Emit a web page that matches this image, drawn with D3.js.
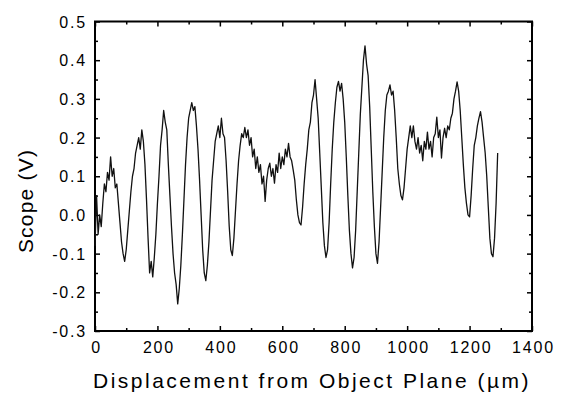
<!DOCTYPE html>
<html>
<head>
<meta charset="utf-8">
<script src="https://cdn.jsdelivr.net/npm/d3@7"></script>
<style>
  body { margin: 0; background: #fff; }
  text { font-family: "Liberation Sans", Arial, sans-serif; fill: #000; }
</style>
</head>
<body>
<div id="chart"></div>
<script>
// sampling grid of the scope trace (um)
const xStart = 0;
const xStep = 5;

// scope voltage (V), every 5 um
const scopeValues = [
  -0.08, 0.05, -0.05, 0.0, -0.03, 0.03, 0.08, 0.06, 0.11, 0.09,
  0.15, 0.1, 0.12, 0.07, 0.08, 0.03, -0.02, -0.07, -0.1, -0.12,
  -0.09, -0.04, 0.01, 0.06, 0.1, 0.12, 0.16, 0.18, 0.2, 0.17,
  0.22, 0.19, 0.13, 0.04, -0.06, -0.15, -0.12, -0.16, -0.11, -0.05,
  0.03, 0.1, 0.18, 0.22, 0.27, 0.24, 0.22, 0.13, 0.05, -0.03,
  -0.1, -0.15, -0.18, -0.23, -0.19, -0.13, -0.05, 0.04, 0.13, 0.2,
  0.25, 0.27, 0.29, 0.27, 0.28, 0.23, 0.17, 0.09, 0.0, -0.09,
  -0.15, -0.17, -0.13, -0.07, 0.01, 0.09, 0.14, 0.19, 0.21, 0.23,
  0.2, 0.25, 0.21, 0.2, 0.14, 0.06, -0.03, -0.09, -0.105, -0.06,
  0.01, 0.08, 0.14, 0.18, 0.21, 0.2, 0.226, 0.2, 0.22, 0.18,
  0.2, 0.15, 0.17, 0.12, 0.15, 0.11, 0.13, 0.08, 0.1, 0.035,
  0.09, 0.12, 0.134, 0.1, 0.12, 0.082, 0.13, 0.11, 0.16, 0.12,
  0.15, 0.13, 0.17, 0.15, 0.185, 0.15, 0.14, 0.116, 0.09, 0.04,
  0.0, -0.02, -0.026, 0.02, 0.08, 0.13, 0.17, 0.22, 0.24, 0.29,
  0.31, 0.35, 0.3, 0.25, 0.16, 0.07, -0.02, -0.08, -0.11, -0.09,
  -0.02, 0.08, 0.17, 0.24, 0.29, 0.33, 0.345, 0.32, 0.34, 0.3,
  0.24, 0.15, 0.05, -0.04, -0.1, -0.137, -0.11, -0.04, 0.06, 0.16,
  0.26, 0.33, 0.4, 0.437, 0.39, 0.36, 0.28, 0.17, 0.06, -0.03,
  -0.1, -0.125, -0.07, 0.02, 0.11, 0.2, 0.27, 0.31, 0.32, 0.336,
  0.31, 0.32, 0.27, 0.2, 0.12, 0.08, 0.05, 0.039, 0.07, 0.12,
  0.17, 0.2, 0.23, 0.2, 0.23, 0.19, 0.17, 0.2, 0.16, 0.18,
  0.14, 0.19, 0.17, 0.214, 0.17, 0.19, 0.15, 0.2, 0.21, 0.253,
  0.2, 0.22, 0.147, 0.2, 0.224, 0.2, 0.23, 0.22, 0.25, 0.263,
  0.3, 0.32, 0.344, 0.32, 0.27, 0.2, 0.13, 0.07, 0.03, 0.0,
  -0.005, 0.05, 0.12, 0.18, 0.2, 0.23, 0.25, 0.267, 0.24, 0.2,
  0.16, 0.1, 0.02, -0.06, -0.1, -0.108, -0.06, 0.03, 0.16
];

const xMajorTicks = [0, 200, 400, 600, 800, 1000, 1200, 1400];
const xMinorTicks = [100, 300, 500, 700, 900, 1100, 1300];
const yMajorTicks = [-0.3, -0.2, -0.1, 0.0, 0.1, 0.2, 0.3, 0.4, 0.5];
const yMinorTicks = [-0.25, -0.15, -0.05, 0.05, 0.15, 0.25, 0.35, 0.45];

const xTitle = 'Displacement from Object Plane (\u00b5m)';
const yTitle = 'Scope (V)';

const width = 561, height = 395;
const margin = {top: 21.5, right: 29, bottom: 64, left: 95};
const w = width - margin.left - margin.right;
const h = height - margin.top - margin.bottom;

const data = scopeValues.map((v, i) => ({x: xStart + i * xStep, y: v}));

const svg = d3.select('#chart').append('svg')
  .attr('width', width)
  .attr('height', height);

const g = svg.append('g')
  .attr('transform', 'translate(' + margin.left + ',' + margin.top + ')');

const x = d3.scaleLinear().domain([0, 1400]).range([0, w]);
const y = d3.scaleLinear().domain([-0.3, 0.5]).range([h, 0]);

// plain hyphen for negatives, like the original
const yFormat = d => d.toFixed(1);

const axes = g.append('g');

// inward ticks on all four sides, major 5px, minor 3px
const gx = axes.append('g').attr('transform', 'translate(0,' + h + ')')
  .call(d3.axisBottom(x).tickValues(xMajorTicks).tickSize(-5).tickSizeOuter(0).tickFormat(d3.format('d')));
axes.append('g').attr('transform', 'translate(0,' + h + ')')
  .call(d3.axisBottom(x).tickValues(xMinorTicks).tickSize(-3).tickSizeOuter(0).tickFormat(''));
axes.append('g')
  .call(d3.axisTop(x).tickValues(xMajorTicks).tickSize(-5).tickSizeOuter(0).tickFormat(''));
axes.append('g')
  .call(d3.axisTop(x).tickValues(xMinorTicks).tickSize(-3).tickSizeOuter(0).tickFormat(''));

const gy = axes.append('g')
  .call(d3.axisLeft(y).tickValues(yMajorTicks).tickSize(-5).tickSizeOuter(0).tickFormat(yFormat));
axes.append('g')
  .call(d3.axisLeft(y).tickValues(yMinorTicks).tickSize(-3).tickSizeOuter(0).tickFormat(''));
axes.append('g').attr('transform', 'translate(' + w + ',0)')
  .call(d3.axisRight(y).tickValues(yMajorTicks).tickSize(-5).tickSizeOuter(0).tickFormat(''));
axes.append('g').attr('transform', 'translate(' + w + ',0)')
  .call(d3.axisRight(y).tickValues(yMinorTicks).tickSize(-3).tickSizeOuter(0).tickFormat(''));

axes.selectAll('.domain').remove();
axes.selectAll('.tick line').attr('stroke', '#000').attr('stroke-width', 1.5);

gx.selectAll('.tick text')
  .attr('x', 1)
  .attr('y', 11)
  .attr('dy', '0.71em')
  .style('font-size', '16px')
  .style('letter-spacing', '1.8px')
  .style('font-family', '"Liberation Sans", Arial, sans-serif')
  .attr('fill', '#000');

gy.selectAll('.tick text')
  .attr('x', -8)
  .attr('dy', '0.35em')
  .style('font-size', '16px')
  .style('letter-spacing', '1.8px')
  .style('font-family', '"Liberation Sans", Arial, sans-serif')
  .attr('fill', '#000');

// frame
g.append('rect')
  .attr('x', 0).attr('y', 0)
  .attr('width', w).attr('height', h)
  .attr('fill', 'none')
  .attr('stroke', '#000')
  .attr('stroke-width', 2);

const line = d3.line()
  .x(d => x(d.x))
  .y(d => y(d.y));

g.append('path')
  .datum(data)
  .attr('fill', 'none')
  .attr('stroke', '#111')
  .attr('stroke-width', 1.3)
  .attr('stroke-linejoin', 'round')
  .attr('d', line);

svg.append('text')
  .attr('x', 93)
  .attr('y', 388)
  .style('font-size', '21px')
  .style('letter-spacing', '2.5px')
  .text(xTitle);

svg.append('text')
  .attr('transform', 'translate(33,201) rotate(-90)')
  .attr('text-anchor', 'middle')
  .style('font-size', '21px')
  .style('letter-spacing', '1.2px')
  .text(yTitle);
</script>
</body>
</html>
